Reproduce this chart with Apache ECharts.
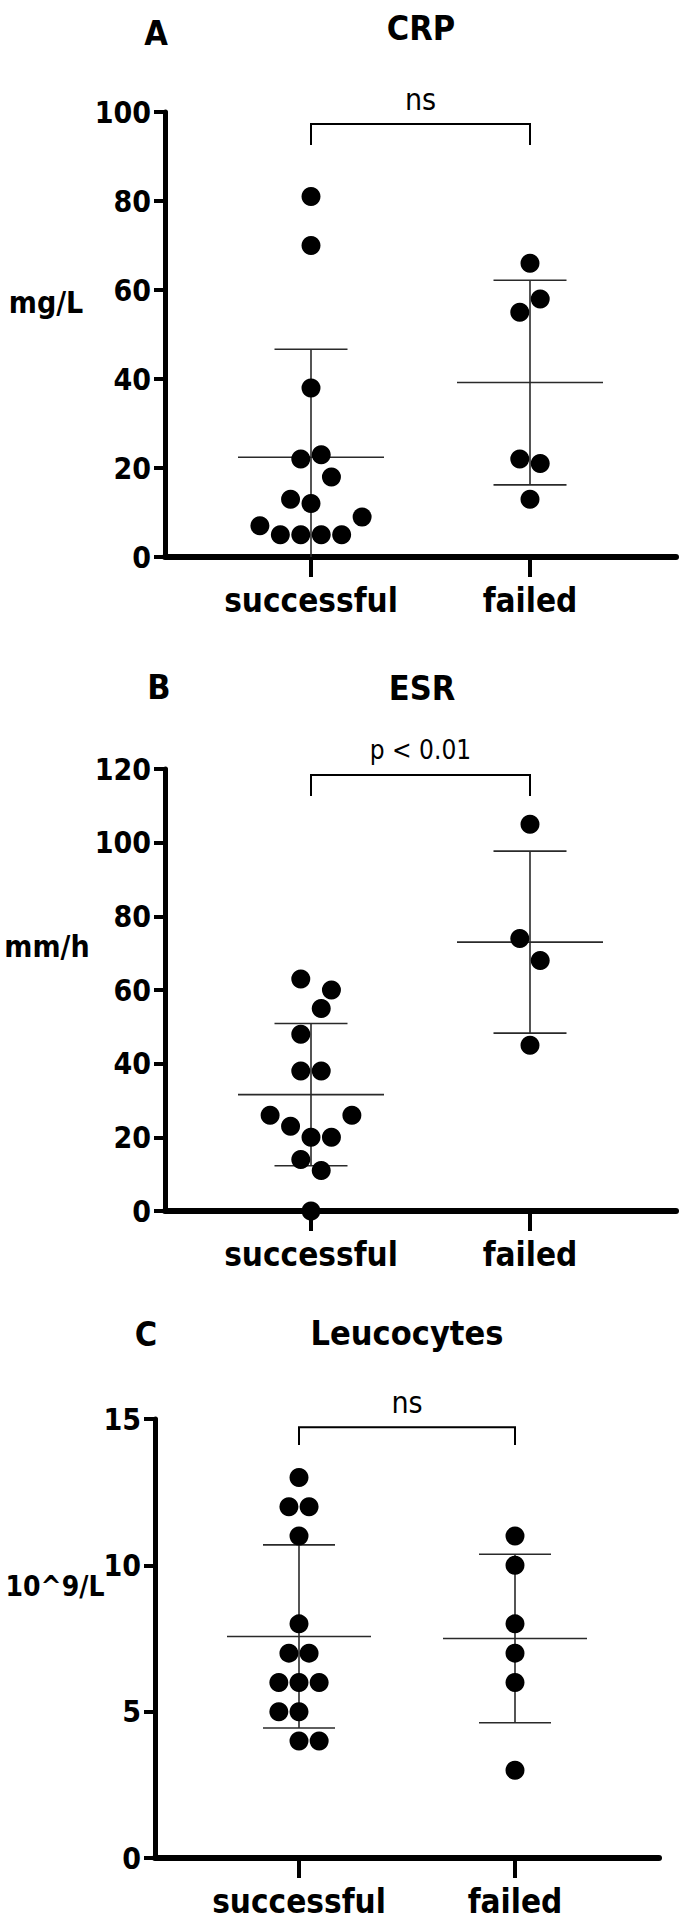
<!DOCTYPE html>
<html>
<head>
<meta charset="utf-8">
<script src="https://cdn.jsdelivr.net/npm/echarts@6/dist/echarts.min.js"></script>
<style>html,body{margin:0;padding:0;background:#fff}#c{width:690px;height:1925px}</style>
</head>
<body>
<div id="c"></div>
<script>
// ---- data ----
const categories = ['successful', 'failed'];
const catPos = [1, 2.5];
const panelLetters = ['A', 'B', 'C'];
const panelTitles = ['CRP', 'ESR', 'Leucocytes'];
const unitNames = ['mg/L', 'mm/h', '10^9/L'];
const sigLabels = ['ns', 'p < 0.01', 'ns'];
const bracketTop = [97.3, 118.4, 14.72];
const bracketDrop = [92.6, 112.7, 14.11];
const yMax = [100, 120, 15];
const yStep = [20, 20, 5];

const crpSuccessful = [81, 70, 38, 23, 22, 18, 13, 12, 9, 7, 5, 5, 5, 5];
const crpSuccessfulJitter = [0, 0, 0, 1, -1, 2, -2, 0, 5, -5, -3, -1, 1, 3];
const crpFailed = [66, 58, 55, 22, 21, 13];
const crpFailedJitter = [0, 1, -1, -1, 1, 0];
const crpMean = [22.4, 39.2];
const crpSD = [24.3, 23.0];

const esrSuccessful = [63, 60, 55, 48, 38, 38, 26, 26, 23, 20, 20, 14, 11, 0];
const esrSuccessfulJitter = [-1, 2, 1, -1, -1, 1, -4, 4, -2, 0, 2, -1, 1, 0];
const esrFailed = [105, 74, 68, 45];
const esrFailedJitter = [0, -1, 1, 0];
const esrMean = [31.6, 73.0];
const esrSD = [19.3, 24.7];

const leuSuccessful = [13, 12, 12, 11, 8, 7, 7, 6, 6, 6, 5, 5, 4, 4];
const leuSuccessfulJitter = [0, -1, 1, 0, 0, -1, 1, -2, 0, 2, -2, 0, 0, 2];
const leuFailed = [11, 10, 8, 7, 6, 3];
const leuFailedJitter = [0, 0, 0, 0, 0, 0];
const leuMean = [7.57, 7.5];
const leuSD = [3.13, 2.88];

// ---- layout / style ----
const FONT = "'DejaVu Sans Condensed', 'Liberation Sans Narrow', sans-serif";
const JITTER_STEP = 0.07;
const grids = [
  {left: 165, top: 112, width: 511, height: 445},
  {left: 165, top: 769, width: 511, height: 442},
  {left: 155, top: 1419, width: 504, height: 439}
];
const letterPos = [[156, 33], [159, 687], [146, 1334]];
const titlePos = [[421, 28], [422, 688], [407, 1333]];
const unitPos = [[46, 302], [47, 946], [55, 1586]];
const unitFont = [30, 30, 28];
const sigFont = [30, 26, 30];

const panels = [
  {s: crpSuccessful, sj: crpSuccessfulJitter, f: crpFailed, fj: crpFailedJitter, mean: crpMean, sd: crpSD},
  {s: esrSuccessful, sj: esrSuccessfulJitter, f: esrFailed, fj: esrFailedJitter, mean: esrMean, sd: esrSD},
  {s: leuSuccessful, sj: leuSuccessfulJitter, f: leuFailed, fj: leuFailedJitter, mean: leuMean, sd: leuSD}
];

const xAxes = grids.map((g, i) => ({
  gridIndex: i, type: 'value', min: 0, max: 3.5,
  splitLine: {show: false},
  axisLine: {show: true, lineStyle: {color: '#000', width: 6}},
  axisTick: {show: true, customValues: catPos, length: 20, lineStyle: {color: '#000', width: 4}},
  axisLabel: {show: true, customValues: catPos, formatter: v => categories[catPos.indexOf(v)] || '',
    fontFamily: FONT, fontWeight: 'bold', fontSize: 33, color: '#000', margin: 27}
}));
const yAxes = grids.map((g, i) => ({
  gridIndex: i, type: 'value', min: 0, max: yMax[i], interval: yStep[i],
  splitLine: {show: false},
  axisLine: {show: true, lineStyle: {color: '#000', width: 5}},
  axisTick: {show: true, length: 11, lineStyle: {color: '#000', width: 4}},
  axisLabel: {fontFamily: FONT, fontWeight: 'bold', fontSize: 30, color: '#000', margin: 14}
}));

const series = [];
panels.forEach((p, i) => {
  // error bars (mean ± SD)
  series.push({
    type: 'custom', xAxisIndex: i, yAxisIndex: i, z: 1, clip: false,
    data: catPos.map((x, k) => [x, p.mean[k], p.sd[k]]),
    renderItem: (params, api) => {
      const x = api.value(0), m = api.value(1), s = api.value(2);
      const hi = m + s, lo = Math.max(m - s, 0);
      const st = {stroke: '#2a2a2a', lineWidth: 1.6};
      const seg = (a, b) => ({type: 'line', shape: {x1: a[0], y1: a[1], x2: b[0], y2: b[1]}, style: st});
      const ch = [
        seg(api.coord([x - 0.5, m]), api.coord([x + 0.5, m])),
        seg(api.coord([x, hi]), api.coord([x, lo])),
        seg(api.coord([x - 0.25, hi]), api.coord([x + 0.25, hi]))
      ];
      if (m - s > 0) ch.push(seg(api.coord([x - 0.25, lo]), api.coord([x + 0.25, lo])));
      return {type: 'group', children: ch};
    }
  });
  // significance bracket
  series.push({
    type: 'custom', xAxisIndex: i, yAxisIndex: i, z: 3, clip: false,
    data: [[catPos[0], catPos[1], bracketTop[i], bracketDrop[i]]],
    renderItem: (params, api) => {
      const a = api.coord([api.value(0), api.value(2)]);
      const b = api.coord([api.value(1), api.value(2)]);
      const a2 = api.coord([api.value(0), api.value(3)]);
      const b2 = api.coord([api.value(1), api.value(3)]);
      const st = {stroke: '#000', lineWidth: 2};
      return {type: 'group', children: [
        {type: 'polyline', shape: {points: [a2, a, b, b2]}, style: Object.assign({fill: null}, st)},
        {type: 'text', x: (a[0] + b[0]) / 2, y: a[1] - 25,
          style: {text: sigLabels[i], fontFamily: FONT, fontSize: sigFont[i], fill: '#000', align: 'center', verticalAlign: 'middle'}}
      ]};
    }
  });
  // points
  series.push({
    type: 'scatter', xAxisIndex: i, yAxisIndex: i, z: 2,
    symbol: 'circle', symbolSize: 19, itemStyle: {color: '#000', opacity: 1},
    data: p.s.map((v, k) => [catPos[0] + p.sj[k] * JITTER_STEP, v])
      .concat(p.f.map((v, k) => [catPos[1] + p.fj[k] * JITTER_STEP, v]))
  });
});

const txt = (t, pos, size) => ({type: 'text', x: pos[0], y: pos[1],
  style: {text: t, fontFamily: FONT, fontWeight: 'bold', fontSize: size, fill: '#000', align: 'center', verticalAlign: 'middle'}});
const graphic = [];
for (let i = 0; i < 3; i++) {
  graphic.push(txt(panelLetters[i], letterPos[i], 34));
  graphic.push(txt(panelTitles[i], titlePos[i], 34));
  graphic.push(txt(unitNames[i], unitPos[i], unitFont[i]));
}

const chart = echarts.init(document.getElementById('c'), null, {renderer: 'svg'});
chart.setOption({
  animation: false,
  backgroundColor: '#fff',
  grid: grids,
  xAxis: xAxes,
  yAxis: yAxes,
  series: series,
  graphic: graphic
});
</script>
</body>
</html>
